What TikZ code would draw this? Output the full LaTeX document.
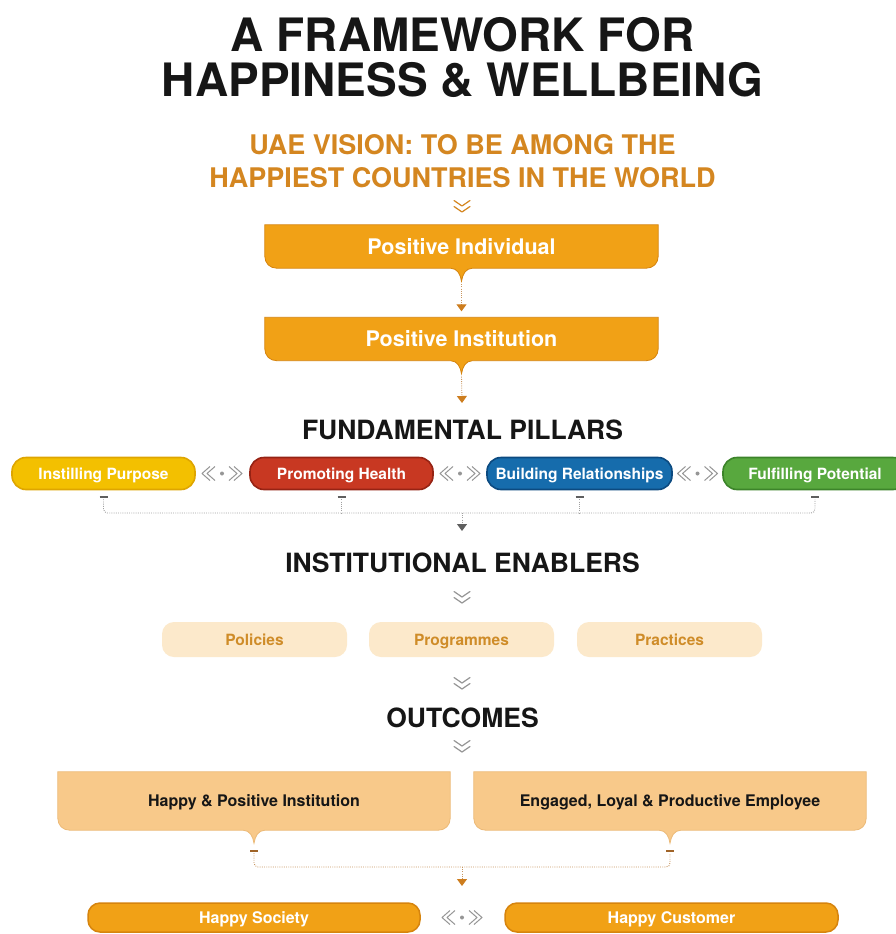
\documentclass[tikz,border=0pt]{standalone}
\usepackage{fontspec}
\setmainfont{TeX Gyre Heros}
\usetikzlibrary{calc,arrows.meta,backgrounds}

\definecolor{ink}{RGB}{22,22,22}
\definecolor{visiontxt}{RGB}{212,134,32}
\definecolor{amber}{RGB}{241,161,22}
\definecolor{amberedge}{RGB}{214,132,14}
\definecolor{peach}{RGB}{252,233,203}
\definecolor{peachtxt}{RGB}{207,140,40}
\definecolor{sand}{RGB}{248,201,138}
\definecolor{sandedge}{RGB}{236,186,120}
\definecolor{pyellow}{RGB}{243,192,0}
\definecolor{pyellowedge}{RGB}{222,165,0}
\definecolor{pred}{RGB}{200,56,34}
\definecolor{prededge}{RGB}{150,35,20}
\definecolor{pblue}{RGB}{22,108,172}
\definecolor{pblueedge}{RGB}{12,74,128}
\definecolor{pgreen}{RGB}{88,168,62}
\definecolor{pgreenedge}{RGB}{60,132,42}
\definecolor{linkgray}{RGB}{150,150,150}
\definecolor{dotgray}{RGB}{160,160,160}
\definecolor{tickgray}{RGB}{95,95,95}
\definecolor{dotamber}{RGB}{200,150,95}
\definecolor{tickamber}{RGB}{160,100,40}
\definecolor{tipamber}{RGB}{205,125,30}

% notched tab behind a named node: flat top, rounded bottom, small point at the centre
\newcommand\notchtab[4]{%
  \path[fill=#2, draw=#3, line width=0.8pt]
    (#1.north west) -- (#1.north east)
    -- ($(#1.south east)+(0,-12)$)
    .. controls ($(#1.south east)+(0,-5)$) and ($(#1.south east)+(-5,0)$) .. ($(#1.south east)+(-12,0)$)
    -- ($(#1.south)+(11,0)$)
    .. controls ($(#1.south)+(4,0)$) and ($(#1.south)+(1,#4/2)$) .. ($(#1.south)+(0,#4)$)
    .. controls ($(#1.south)+(-1,#4/2)$) and ($(#1.south)+(-4,0)$) .. ($(#1.south)+(-11,0)$)
    -- ($(#1.south west)+(12,0)$)
    .. controls ($(#1.south west)+(5,0)$) and ($(#1.south west)+(0,-5)$) .. ($(#1.south west)+(0,-12)$)
    -- cycle;}

\tikzset{
  titletext/.style={font=\fontsize{46}{50}\selectfont\bfseries, text=ink, anchor=base, inner sep=0pt},
  visiontext/.style={font=\fontsize{27}{30}\selectfont\bfseries, text=visiontxt, anchor=base, inner sep=0pt},
  heading/.style={font=\fontsize{26.5}{30}\selectfont\bfseries, text=ink, anchor=base, inner sep=0pt},
  tabtext/.style={font=\fontsize{21.5}{24}\selectfont\bfseries, text=white, inner sep=0pt,
    text height=15.4pt, text depth=0pt, minimum width=393pt, minimum height=43pt},
  outtext/.style={font=\fontsize{16}{19}\selectfont\bfseries, text=ink, inner sep=0pt,
    text height=11.5pt, text depth=0pt, minimum width=392pt, minimum height=58pt},
  pill/.style 2 args={fill=#1, draw=#2, line width=1.6pt, rounded corners=14pt, text=white,
    font=\fontsize{15.5}{18}\selectfont\bfseries, inner sep=0pt, text height=11.1pt, text depth=0pt,
    minimum height=32pt},
  enabler/.style={fill=peach, rounded corners=12pt, text=peachtxt,
    font=\fontsize{15.5}{18}\selectfont\bfseries, inner sep=0pt, text height=11.1pt, text depth=0pt,
    minimum width=185pt, minimum height=35pt},
  result/.style={fill=amber, draw=amberedge, line width=1.5pt, rounded corners=12pt, text=white,
    font=\fontsize{16}{19}\selectfont\bfseries, inner sep=0pt, text height=11.5pt, text depth=0pt,
    minimum height=29pt},
  dotline/.style={draw=#1, line width=0.9pt, dash pattern=on 0.9pt off 1.3pt},
  tick/.style={draw=#1, line width=2pt},
  downmark/.pic={\draw[#1, line width=1.2pt, line cap=round, line join=round]
      (-8,-6.5) -- (0,-1) -- (8,-6.5) (-8,-0.5) -- (0,5) -- (8,-0.5);},
  linkmark/.pic={\draw[linkgray, line width=1pt, line join=round]
      (-12,-7) -- (-20,0) -- (-12,7) (-7,-7) -- (-15,0) -- (-7,7)
      (12,-7) -- (20,0) -- (12,7) (7,-7) -- (15,0) -- (7,7);
      \fill[linkgray] (0,0) circle (2pt);}
}

\begin{document}
\begin{tikzpicture}[x=1pt,y=-1pt]
\useasboundingbox (0,0) rectangle (896,934);
\begin{scope}[on background layer]
  \fill[white] (0,0) rectangle (896,934);
\end{scope}

% title and vision
\node[titletext] (title1) at (462.5,52) {A FRAMEWORK FOR};
\node[titletext] (title2) at (462.5,96) {HAPPINESS \& WELLBEING};
\node[visiontext] (vision1) at (462.5,154) {UAE VISION: TO BE AMONG THE};
\node[visiontext] (vision2) at (462.5,187) {HAPPIEST COUNTRIES IN THE WORLD};
\pic at (462,207) {downmark=visiontxt};

% positive individual / institution
\node[tabtext] (posind) at (461.5,246.5) {Positive Individual};
\node[tabtext] (posinst) at (461.5,339) {Positive Institution};
\begin{scope}[on background layer]
  \notchtab{posind}{amber}{amberedge}{13}
  \notchtab{posinst}{amber}{amberedge}{13}
\end{scope}
\node[heading] (pillars) at (462.5,439) {FUNDAMENTAL PILLARS};
\draw[dotline=dotamber, -{Triangle[width=10pt,length=7pt,color=tipamber]}]
  ($(posind.south)+(0,16)$) -- ($(posinst.north)+(0,-6)$);
\coordinate (pillarstop) at (462,403);
\draw[dotline=dotamber, -{Triangle[width=10pt,length=7pt,color=tipamber]}]
  ($(posinst.south)+(0,16)$) -- (pillarstop);

% fundamental pillars
\node[pill={pyellow}{pyellowedge}, minimum width=183pt] (purpose) at (103.5,473.5) {Instilling Purpose};
\node[pill={pred}{prededge}, minimum width=183pt] (health) at (341.5,473.5) {Promoting Health};
\node[pill={pblue}{pblueedge}, minimum width=185pt] (relations) at (579.5,473.5) {Building Relationships};
\node[pill={pgreen}{pgreenedge}, minimum width=184pt] (potential) at (815,473.5) {Fulfilling Potential};
\pic at (222,473.5) {linkmark};
\pic at (460,473.5) {linkmark};
\pic at (697.5,473.5) {linkmark};

\coordinate (pjoin) at (462,513);
\foreach \p in {purpose,health,relations,potential}
  \draw[tick=tickgray] ($(\p.south)+(-4,7)$) -- ($(\p.south)+(4,7)$);
\draw[dotline=dotgray, rounded corners=4pt]
  ($(purpose.south)+(0,9)$) |- (potential.south |- pjoin) -- ($(potential.south)+(0,9)$);
\draw[dotline=dotgray] ($(health.south)+(0,9)$) -- (health.south |- pjoin);
\draw[dotline=dotgray] ($(relations.south)+(0,9)$) -- (relations.south |- pjoin);
\coordinate (enablerstop) at (462,531);
\draw[dotline=dotgray, -{Triangle[width=10pt,length=7pt,color=tickgray]}] (pjoin) -- (enablerstop);

% institutional enablers
\node[heading] (enablers) at (462.5,572) {INSTITUTIONAL ENABLERS};
\pic at (462,598) {downmark=linkgray};
\node[enabler] (policies) at (254.5,639.5) {Policies};
\node[enabler] (programmes) at (461.5,639.5) {Programmes};
\node[enabler] (practices) at (669.5,639.5) {Practices};
\pic at (462,684) {downmark=linkgray};

% outcomes
\node[heading] (outcomes) at (462.5,727) {OUTCOMES};
\pic at (462,747) {downmark=linkgray};
\node[outtext] (institution) at (254,801) {Happy \& Positive Institution};
\node[outtext] (employee) at (670,801) {Engaged, Loyal \& Productive Employee};
\begin{scope}[on background layer]
  \notchtab{institution}{sand}{sandedge}{13}
  \notchtab{employee}{sand}{sandedge}{13}
\end{scope}

\coordinate (ojoin) at (462,867);
\foreach \p in {institution,employee}
  \draw[tick=tickamber] ($(\p.south)+(-4,21)$) -- ($(\p.south)+(4,21)$);
\draw[dotline=dotamber, rounded corners=4pt]
  ($(institution.south)+(0,23)$) |- (employee.south |- ojoin) -- ($(employee.south)+(0,23)$);
\coordinate (resultstop) at (462,886);
\draw[dotline=dotamber, -{Triangle[width=10pt,length=7pt,color=tipamber]}] (ojoin) -- (resultstop);

% final results
\node[result, minimum width=332pt] (society) at (254,917.5) {Happy Society};
\node[result, minimum width=333pt] (customer) at (671.5,917.5) {Happy Customer};
\pic at (462,917.5) {linkmark};
\end{tikzpicture}
\end{document}
